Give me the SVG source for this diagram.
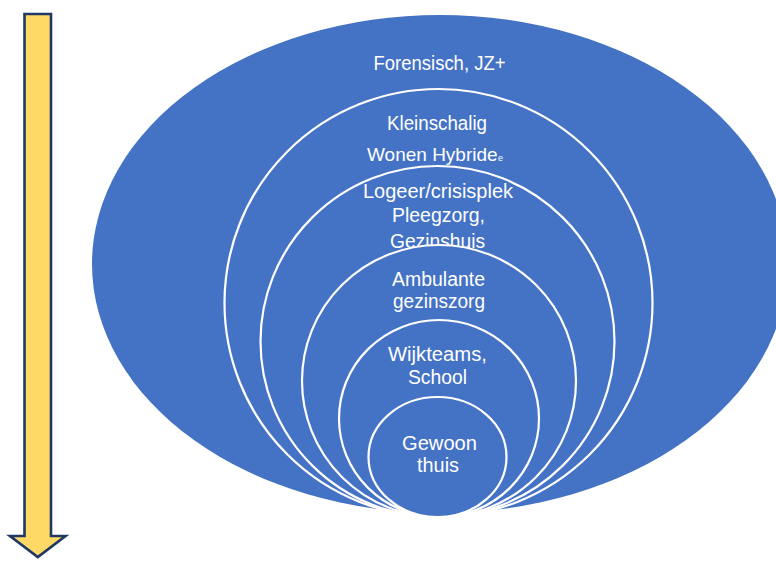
<svg xmlns="http://www.w3.org/2000/svg" width="776" height="561" viewBox="0 0 776 561">
<style>
.bg{fill:#4472C4}
.ring{fill:#4472C4;stroke:#FFFFFF;stroke-width:2.2}
.t{font-family:"Liberation Sans",Arial,sans-serif;font-size:20px;fill:#FFFFFF;text-anchor:middle}
</style>
<rect x="0" y="0" width="776" height="561" fill="#FFFFFF"/>
<g id="arrow">
<polygon points="24.5,14 51,14 51,536 65.5,536 37.8,557 10,536 24.5,536" fill="#FFD966" stroke="#1F3864" stroke-width="2.6" stroke-linejoin="miter"/>
</g>
<g id="forensisch">
<ellipse class="bg" cx="440" cy="264" rx="348" ry="249"/>
<text class="t" x="439.5" y="70" textLength="132" lengthAdjust="spacingAndGlyphs">Forensisch, JZ+</text>
</g>
<g id="kleinschalig">
<ellipse class="ring" cx="438.5" cy="303" rx="214" ry="214"/>
<text class="t" x="437" y="129.5" textLength="100" lengthAdjust="spacingAndGlyphs">Kleinschalig</text>
<text class="t" x="367" y="161" style="text-anchor:start;font-size:19px">Wonen Hybride<tspan dx="0.5" style="font-size:9px">e</tspan></text>
</g>
<g id="logeer">
<ellipse class="ring" cx="437.5" cy="341.5" rx="177" ry="175.5"/>
<text class="t" x="438" y="197.5" textLength="150" lengthAdjust="spacingAndGlyphs">Logeer/crisisplek</text>
<text class="t" x="438.5" y="222" textLength="93" lengthAdjust="spacingAndGlyphs">Pleegzorg,</text>
<text class="t" x="437.5" y="248" textLength="95" lengthAdjust="spacingAndGlyphs">Gezinshuis</text>
</g>
<g id="ambulante">
<ellipse class="ring" cx="439" cy="381" rx="137" ry="136"/>
<text class="t" x="438.5" y="285.5" textLength="93" lengthAdjust="spacingAndGlyphs">Ambulante</text>
<text class="t" x="439" y="307.5" textLength="92" lengthAdjust="spacingAndGlyphs">gezinszorg</text>
</g>
<g id="wijkteams">
<ellipse class="ring" cx="439" cy="418.5" rx="100" ry="98.5"/>
<text class="t" x="437.5" y="360.5" textLength="99" lengthAdjust="spacingAndGlyphs">Wijkteams,</text>
<text class="t" x="437.5" y="384" textLength="59" lengthAdjust="spacingAndGlyphs">School</text>
</g>
<g id="gewoon">
<ellipse class="ring" cx="437.5" cy="457" rx="69" ry="60"/>
<text class="t" x="439.5" y="449.5" textLength="75" lengthAdjust="spacingAndGlyphs">Gewoon</text>
<text class="t" x="438" y="472" textLength="42" lengthAdjust="spacingAndGlyphs">thuis</text>
</g>
</svg>
